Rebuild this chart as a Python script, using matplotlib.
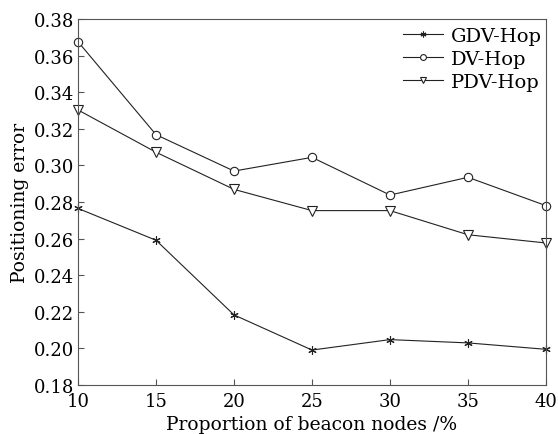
import matplotlib
matplotlib.use("Agg")
import matplotlib.pyplot as plt

x = [10, 15, 20, 25, 30, 35, 40]
gdv = [0.2765, 0.2591, 0.2183, 0.1991, 0.2048, 0.2030, 0.1995]
dv = [0.3676, 0.3168, 0.2969, 0.3044, 0.2838, 0.2935, 0.2780]
pdv = [0.3303, 0.3072, 0.2869, 0.2753, 0.2753, 0.2621, 0.2576]
yticks = [0.18, 0.20, 0.22, 0.24, 0.26, 0.28, 0.30, 0.32, 0.34, 0.36, 0.38]

plt.rcParams['font.family'] = ['DejaVu Serif']
fig = plt.figure(figsize=(5.58, 4.35), dpi=100)
ax = fig.add_axes([78/558, 1-386/435, (546-78)/558, (386-20)/435])

lw = 0.8
ax.plot(x, gdv, color='#222222', lw=lw, marker=(6, 2, 0), ms=6, mew=0.8, label='GDV-Hop', clip_on=False)
ax.plot(x, dv, color='#222222', lw=lw, marker='o', ms=6, mfc='white', mew=0.8, label='DV-Hop', clip_on=False)
ax.plot(x, pdv, color='#222222', lw=lw, marker='v', ms=6.5, mfc='white', mew=0.8, label='PDV-Hop', clip_on=False)

ax.set_xlim(10, 40)
ax.set_ylim(0.18, 0.38)
ax.set_xticks(x)
ax.set_yticks(yticks)
ax.set_yticklabels([f"{v:.2f}" for v in yticks])
ax.tick_params(direction='in', labelsize=13, length=4, color='#555555', top=False, right=False, pad=3)
ax.tick_params(axis='x', pad=5)
for s in ax.spines.values():
    s.set_color('#555555')
    s.set_linewidth(0.8)
ax.set_xlabel('Proportion of beacon nodes /%', fontsize=13.5, labelpad=4)
ax.set_ylabel('Positioning error', fontsize=13.5, labelpad=3)
ax.legend(loc='upper right', bbox_to_anchor=(1.0, 0.988), frameon=False, fontsize=14, handlelength=2.1,
          borderaxespad=0.0, borderpad=0.2, labelspacing=0.25, handletextpad=0.4, markerscale=0.7)

fig.savefig('out.png', dpi=100)
